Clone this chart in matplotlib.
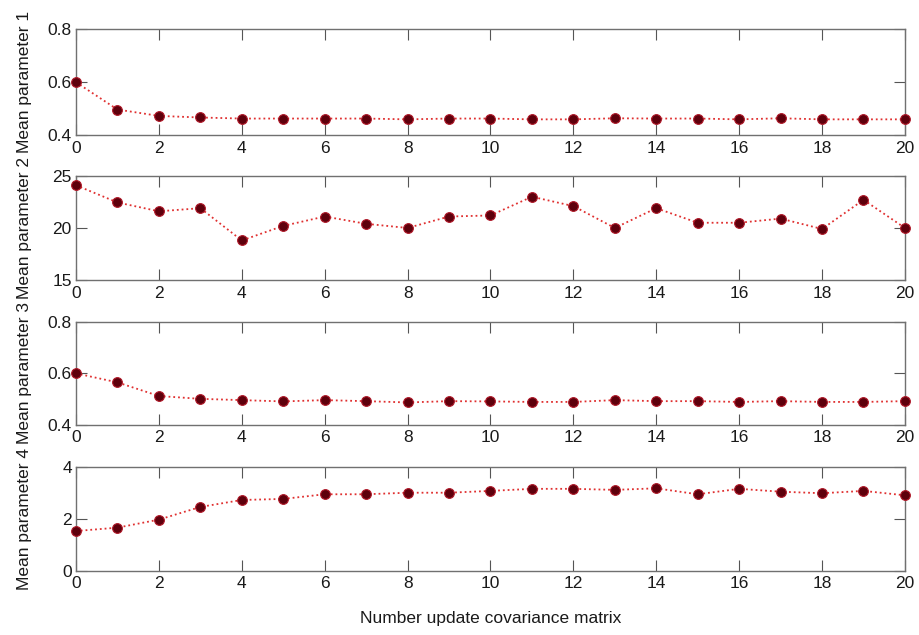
import matplotlib
matplotlib.use("Agg")
import matplotlib.pyplot as plt

plt.rcParams['font.family'] = ['Liberation Sans', 'DejaVu Sans']

x = list(range(21))
param1 = [0.600, 0.497, 0.473, 0.467, 0.463, 0.463, 0.463, 0.463, 0.460, 0.463, 0.463,
          0.460, 0.460, 0.464, 0.463, 0.463, 0.460, 0.464, 0.460, 0.460, 0.460]
param2 = [24.1, 22.45, 21.6, 21.9, 18.8, 20.2, 21.1, 20.4, 20.0, 21.1, 21.2,
          23.0, 22.1, 20.0, 21.9, 20.5, 20.5, 20.9, 19.9, 22.7, 20.0]
param3 = [0.600, 0.565, 0.512, 0.501, 0.496, 0.491, 0.496, 0.492, 0.487, 0.492, 0.491,
          0.489, 0.489, 0.496, 0.492, 0.492, 0.489, 0.492, 0.489, 0.489, 0.492]
param4 = [1.54, 1.67, 1.98, 2.47, 2.74, 2.78, 2.96, 2.96, 3.02, 3.02, 3.09,
          3.17, 3.17, 3.13, 3.19, 2.96, 3.17, 3.06, 3.00, 3.09, 2.92]

series = [param1, param2, param3, param4]
ylabels = ["Mean parameter 1", "Mean parameter 2", "Mean parameter 3", "Mean parameter 4"]
ylims = [(0.4, 0.8), (15, 25), (0.4, 0.8), (0, 4)]
yticks = [[0.4, 0.6, 0.8], [15, 20, 25], [0.4, 0.6, 0.8], [0, 2, 4]]
yticklabels = [["0.4", "0.6", "0.8"], ["15", "20", "25"], ["0.4", "0.6", "0.8"], ["0", "2", "4"]]

# axes boxes in figure fractions (left, bottom, width, height)
boxes = [(0.0827, 0.787, 0.902, 0.167),
         (0.0827, 0.559, 0.902, 0.164),
         (0.0827, 0.331, 0.902, 0.162),
         (0.0827, 0.101, 0.902, 0.163)]

fig = plt.figure(figsize=(9.19, 6.35), dpi=100)

for i in range(4):
    ax = fig.add_axes(boxes[i])
    ax.plot(x, series[i], linestyle=':', color='#e03030', linewidth=1.3,
            marker='o', markersize=7, markerfacecolor='#5e000c',
            markeredgecolor='#b01828', markeredgewidth=0.8, clip_on=False, zorder=3)
    ax.set_xlim(0, 20)
    ax.set_ylim(*ylims[i])
    ax.set_xticks(range(0, 21, 2))
    ax.set_yticks(yticks[i])
    ax.set_yticklabels(yticklabels[i])
    ax.tick_params(direction='in', length=8, width=0.8, top=True, right=True,
                   labelsize=12.5, colors='#555555', labelcolor='#1a1a1a')
    ax.tick_params(axis='x', pad=4)
    ax.tick_params(axis='y', pad=3)
    for s in ax.spines.values():
        s.set_color('#707070')
        s.set_linewidth(1.0)
    ax.set_ylabel(ylabels[i], fontsize=12.5, color='#1a1a1a')
    ax.yaxis.set_label_coords(-0.053, 0.5)
    if i == 3:
        ax.set_xlabel("Number update covariance matrix", fontsize=12.5, color='#1a1a1a', labelpad=14)

fig.savefig("out.png", dpi=100)
